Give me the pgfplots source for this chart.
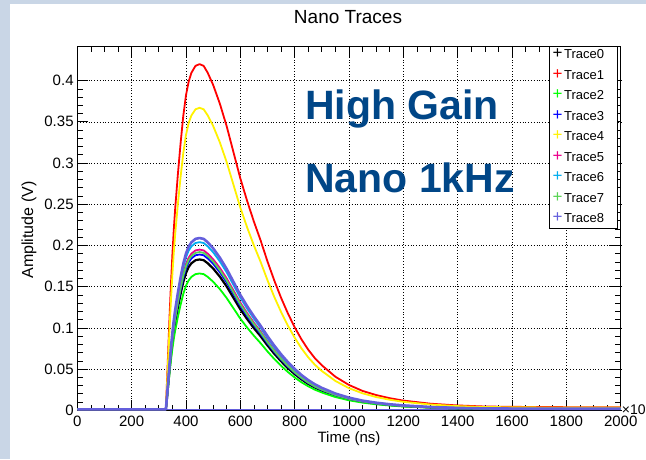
\documentclass[border=0pt]{standalone}
\usepackage{fontspec}
\setmainfont{Liberation Sans}
\usepackage{pgfplots}
\usepackage{pgfplotstable}
\pgfplotsset{compat=1.18}
\definecolor{cT7}{RGB}{89,212,84}
\definecolor{cT8}{RGB}{100,95,220}
\definecolor{slide}{RGB}{201,214,230}
\definecolor{hg}{RGB}{0,70,135}
\pgfplotstableread{
t T0 T1 T2 T3 T4 T5 T6 T7 T8
0 0.0012 0.0012 0.0012 0.0012 0.0012 0.0012 0.0012 0.0012 0.0012
320 0.0012 0.0012 0.0012 0.0012 0.0012 0.0012 0.0012 0.0012 0.0012
326 0.0012 0.0012 0.0012 0.0012 0.0012 0.0012 0.0012 0.0012 0.0012
330 0.0146 0.0336 0.0133 0.0151 0.0294 0.0156 0.0163 0.0154 0.0167
335 0.0329 0.0756 0.0299 0.0340 0.0661 0.0351 0.0367 0.0346 0.0376
340 0.0512 0.1176 0.0465 0.0529 0.1028 0.0546 0.0571 0.0538 0.0585
345 0.0677 0.1554 0.0614 0.0699 0.1358 0.0722 0.0755 0.0710 0.0773
350 0.0824 0.1890 0.0747 0.0851 0.1652 0.0878 0.0918 0.0864 0.0941
355 0.0952 0.2184 0.0863 0.0983 0.1908 0.1014 0.1061 0.0998 0.1087
360 0.1061 0.2436 0.0963 0.1096 0.2129 0.1131 0.1183 0.1114 0.1212
370 0.1244 0.2856 0.1129 0.1285 0.2496 0.1326 0.1387 0.1306 0.1421
380 0.1409 0.3234 0.1278 0.1455 0.2826 0.1502 0.1571 0.1478 0.1609
390 0.1556 0.3570 0.1411 0.1607 0.3120 0.1658 0.1734 0.1632 0.1777
400 0.1665 0.3822 0.1511 0.1720 0.3340 0.1775 0.1856 0.1747 0.1902
410 0.1739 0.3990 0.1577 0.1796 0.3487 0.1853 0.1938 0.1824 0.1986
420 0.1784 0.4095 0.1619 0.1843 0.3578 0.1901 0.1989 0.1872 0.2038
435 0.1821 0.4179 0.1652 0.1881 0.3652 0.1940 0.2030 0.1910 0.2080
450 0.1830 0.4200 0.1660 0.1890 0.3670 0.1950 0.2040 0.1920 0.2090
465 0.1821 0.4179 0.1652 0.1881 0.3652 0.1940 0.2030 0.1910 0.2080
480 0.1784 0.4095 0.1619 0.1843 0.3578 0.1901 0.1989 0.1872 0.2038
500 0.1720 0.3948 0.1560 0.1777 0.3450 0.1833 0.1918 0.1805 0.1965
525 0.1620 0.3717 0.1469 0.1673 0.3248 0.1726 0.1805 0.1699 0.1850
550 0.1501 0.3444 0.1361 0.1550 0.3009 0.1599 0.1673 0.1574 0.1714
575 0.1363 0.3129 0.1237 0.1408 0.2734 0.1453 0.1520 0.1430 0.1557
600 0.1226 0.2814 0.1112 0.1266 0.2459 0.1307 0.1367 0.1286 0.1400
625 0.1107 0.2541 0.1004 0.1143 0.2220 0.1180 0.1234 0.1162 0.1264
650 0.0997 0.2289 0.0905 0.1030 0.2000 0.1063 0.1112 0.1046 0.1139
675 0.0897 0.2058 0.0813 0.0926 0.1798 0.0956 0.1000 0.0941 0.1024
700 0.0787 0.1806 0.0714 0.0813 0.1578 0.0839 0.0877 0.0826 0.0899
725 0.0686 0.1575 0.0623 0.0709 0.1376 0.0731 0.0765 0.0720 0.0784
750 0.0595 0.1365 0.0540 0.0614 0.1193 0.0634 0.0663 0.0624 0.0679
775 0.0512 0.1176 0.0465 0.0529 0.1028 0.0546 0.0571 0.0538 0.0585
800 0.0439 0.1008 0.0398 0.0454 0.0881 0.0468 0.0490 0.0461 0.0502
825 0.0375 0.0861 0.0340 0.0387 0.0752 0.0400 0.0418 0.0394 0.0428
850 0.0320 0.0735 0.0291 0.0331 0.0642 0.0341 0.0357 0.0336 0.0366
875 0.0275 0.0630 0.0249 0.0284 0.0551 0.0293 0.0306 0.0288 0.0314
900 0.0238 0.0546 0.0216 0.0246 0.0477 0.0254 0.0265 0.0250 0.0272
950 0.0178 0.0407 0.0161 0.0183 0.0356 0.0189 0.0198 0.0186 0.0203
1000 0.0134 0.0307 0.0121 0.0138 0.0268 0.0142 0.0149 0.0140 0.0153
1050 0.0102 0.0235 0.0093 0.0106 0.0206 0.0109 0.0114 0.0108 0.0117
1100 0.0081 0.0185 0.0073 0.0083 0.0161 0.0086 0.0090 0.0084 0.0092
1150 0.0064 0.0147 0.0058 0.0066 0.0128 0.0068 0.0071 0.0067 0.0073
1200 0.0051 0.0118 0.0046 0.0053 0.0103 0.0055 0.0057 0.0054 0.0059
1300 0.0035 0.0080 0.0032 0.0036 0.0070 0.0037 0.0039 0.0036 0.0040
1400 0.0026 0.0059 0.0023 0.0026 0.0051 0.0027 0.0029 0.0027 0.0029
1500 0.0020 0.0046 0.0018 0.0021 0.0040 0.0021 0.0022 0.0021 0.0023
1600 0.0018 0.0042 0.0017 0.0019 0.0037 0.0020 0.0020 0.0019 0.0021
1800 0.0016 0.0038 0.0015 0.0017 0.0033 0.0018 0.0018 0.0017 0.0019
2000 0.0016 0.0038 0.0015 0.0017 0.0033 0.0018 0.0018 0.0017 0.0019
}\traces
\newcommand{\legtxt}[2]{\makebox[62pt][l]{\textcolor{#1}{\fontsize{17}{12}\selectfont +}\hspace{1.5pt}#2}}
\begin{document}
\begin{tikzpicture}[x=1pt,y=1pt]
\path[use as bounding box] (0,0) rectangle (646,459);
\fill[white] (0,0) rectangle (646,459);
\fill[slide] (0,0) rectangle (10,459);
\fill[slide] (0,455) rectangle (646,459);
\begin{axis}[
  at={(77.3pt,48.7pt)}, anchor=south west, scale only axis,
  width=543.4pt, height=364.3pt,
  xmin=0, xmax=2000, ymin=0, ymax=0.442,
  xtick={0,200,400,600,800,1000,1200,1400,1600,1800,2000},
  ytick={0,0.05,0.1,0.15,0.2,0.25,0.3,0.35,0.4},
  minor x tick num=3, minor y tick num=4,
  tick align=inside, tick pos=both,
  major tick length=10.5pt, minor tick length=5.5pt,
  grid=major,
  major grid style={black, line width=0.5pt, dash pattern=on 0.8pt off 2pt},
  axis line style={line width=0.8pt},
  every tick/.style={black, line width=0.7pt},
  scaled ticks=false,
  tick label style={font=\fontsize{15}{15}\selectfont},
  /pgf/number format/assume math mode=true,
  xticklabel style={/pgf/number format/1000 sep={}, inner sep=1pt, yshift=-5pt},
  yticklabel style={/pgf/number format/fixed, /pgf/number format/precision=2, inner sep=1pt, xshift=-2.5pt},
  legend cell align=left,
  legend style={at={(rel axis cs:0.995,1)}, anchor=north east, draw=black,
    line width=0.6pt, fill=white, font=\fontsize{13}{13}\selectfont,
    inner xsep=2pt, inner ysep=2pt, row sep=6.5pt,
    /tikz/every even column/.style={column sep=0pt},
    nodes={inner sep=1pt, text height=9.5pt, text depth=2.5pt}},
  legend image code/.code={},
  every axis plot/.append style={line join=round},
]
\addplot[draw=cT8, line width=1pt, forget plot] coordinates {(0,0.0009) (2000,0.0009)};
\addplot[draw=black, line width=2.2pt] table[x=t,y=T0]{\traces};
\addlegendentry{\legtxt{black}{Trace0}}
\addplot[draw=red, line width=1.8pt] table[x=t,y=T1]{\traces};
\addlegendentry{\legtxt{red}{Trace1}}
\addplot[draw=green, line width=1.8pt] table[x=t,y=T2]{\traces};
\addlegendentry{\legtxt{green}{Trace2}}
\addplot[draw=blue, line width=1.8pt] table[x=t,y=T3]{\traces};
\addlegendentry{\legtxt{blue}{Trace3}}
\addplot[draw=yellow, line width=1.8pt] table[x=t,y=T4]{\traces};
\addlegendentry{\legtxt{yellow}{Trace4}}
\addplot[draw=magenta, line width=1.8pt] table[x=t,y=T5]{\traces};
\addlegendentry{\legtxt{magenta}{Trace5}}
\addplot[draw=cyan, line width=1.8pt] table[x=t,y=T6]{\traces};
\addlegendentry{\legtxt{cyan}{Trace6}}
\addplot[draw=cT7, line width=1.8pt] table[x=t,y=T7]{\traces};
\addlegendentry{\legtxt{cT7}{Trace7}}
\addplot[draw=cT8, line width=2.6pt] table[x=t,y=T8]{\traces};
\addlegendentry{\legtxt{cT8}{Trace8}}
\end{axis}
\node[font=\fontsize{19}{19}\selectfont] at (348,442) {Nano Traces};
\node[font=\fontsize{15}{15}\selectfont] at (349,20) {Time (ns)};
\node[font=\fontsize{16}{16}\selectfont, rotate=90] at (29,229) {Amplitude (V)};
\node[font=\fontsize{41}{41}\selectfont\bfseries, text=hg, anchor=base west, inner sep=0pt] at (305,339) {High Gain};
\node[font=\fontsize{41}{41}\selectfont\bfseries, text=hg, anchor=base west, inner sep=0pt] at (305,267) {Nano 1kHz};
\node[font=\fontsize{14}{14}\selectfont, anchor=west, inner sep=1pt] at (620.7,50) {×10\textsuperscript{3}};
\end{tikzpicture}
\end{document}
